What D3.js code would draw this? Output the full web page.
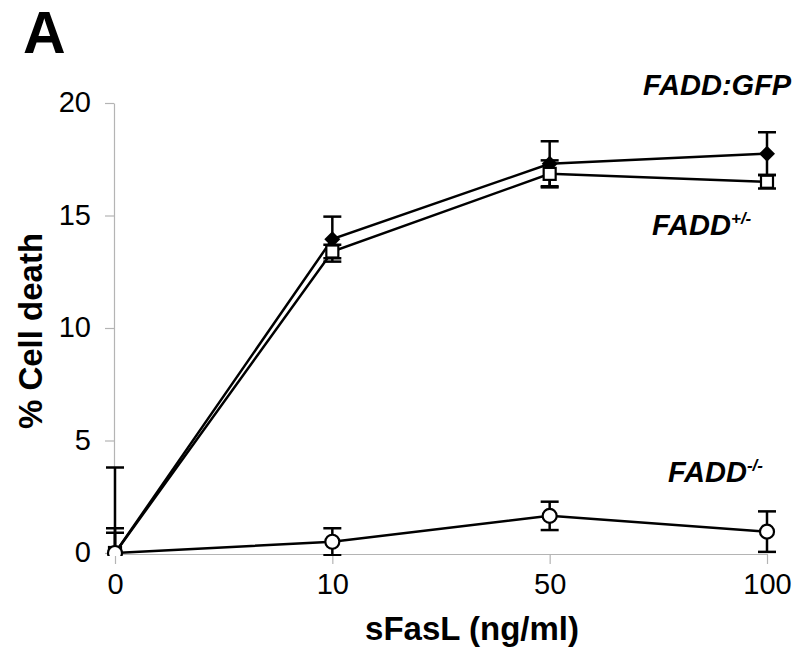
<!DOCTYPE html>
<html>
<head>
<meta charset="utf-8">
<script src="https://cdn.jsdelivr.net/npm/d3@7"></script>
<style>
  body { margin: 0; background: #fff; }
  text { font-family: "Liberation Sans", Arial, sans-serif; }
</style>
</head>
<body>
<script>
// sFasL dose response, % cell death for three cell lines
var svgWidth = 811;
var svgHeight = 662;

var margin = { top: 103, right: 44, bottom: 109, left: 115 };
var chartWidth = 767 - margin.left;
var chartHeight = 553 - margin.top;

// data
var doses = ["0", "10", "50", "100"];
var gfpMean = [0, 13.95, 17.3, 17.75];
var gfpErr = [3.8, 1.0, 1.0, 0.95];
var hetMean = [0, 13.4, 16.85, 16.5];
var hetErr = [1.1, 0.3, 0.6, 0.3];
var koMean = [0, 0.5, 1.65, 0.95];
var koErr = [0.9, 0.6, 0.63, 0.9];
var yTicks = [0, 5, 10, 15, 20];

var svg = d3.select("body")
  .append("svg")
  .attr("width", svgWidth)
  .attr("height", svgHeight);

var chartGroup = svg.append("g")
  .attr("transform", `translate(${margin.left}, ${margin.top})`);

var xScale = d3.scalePoint().domain(doses).range([0, chartWidth]);
var yScale = d3.scaleLinear().domain([0, 20]).range([chartHeight, 0]);

// axes
var leftAxis = d3.axisLeft(yScale).tickValues(yTicks).tickSize(9).tickSizeOuter(0).tickPadding(14);
var bottomAxis = d3.axisBottom(xScale).tickSize(10).tickSizeOuter(0).tickPadding(8);

var yAxis = chartGroup.append("g").attr("transform", "translate(-1,0)").call(leftAxis);
var xAxis = chartGroup.append("g").attr("transform", `translate(0, ${chartHeight + 1})`).call(bottomAxis);

[xAxis, yAxis].forEach(function(ax) {
  ax.select(".domain").attr("stroke", "#b4b4b4").attr("stroke-width", 1.2);
  ax.selectAll(".tick line").attr("stroke", "#b4b4b4").attr("stroke-width", 1.2);
  ax.selectAll(".tick text")
    .attr("fill", "#000")
    .style("font-size", "29px")
    .style("font-family", "'Liberation Sans', Arial, sans-serif");
});
yAxis.selectAll(".tick text").attr("dy", "0.3em");
xAxis.selectAll(".tick text").attr("dy", "0.75em");

// clip so error bars stay inside the plot
chartGroup.append("clipPath").attr("id", "plotClip")
  .append("rect").attr("x", -30).attr("y", -40).attr("width", chartWidth + 60).attr("height", chartHeight + 43);

var plot = chartGroup.append("g").attr("clip-path", "url(#plotClip)");

var series = [
  { mean: gfpMean, err: gfpErr, marker: "diamond" },
  { mean: hetMean, err: hetErr, marker: "square" },
  { mean: koMean, err: koErr, marker: "circle" }
];

var line = d3.line()
  .x((d, i) => xScale(doses[i]))
  .y(d => yScale(d));

// error bars first
series.forEach(function(s) {
  var g = plot.append("g").attr("stroke", "#000").attr("stroke-width", 2.5);
  s.mean.forEach(function(m, i) {
    var x = xScale(doses[i]);
    var hi = yScale(m + s.err[i]);
    var lo = yScale(m - s.err[i]);
    g.append("line").attr("x1", x).attr("x2", x).attr("y1", hi).attr("y2", lo);
    g.append("line").attr("x1", x - 9).attr("x2", x + 9).attr("y1", hi).attr("y2", hi);
    g.append("line").attr("x1", x - 9).attr("x2", x + 9).attr("y1", lo).attr("y2", lo);
  });
});

// lines
series.forEach(function(s) {
  plot.append("path")
    .datum(s.mean)
    .attr("d", line)
    .attr("fill", "none")
    .attr("stroke", "#000")
    .attr("stroke-width", 2.5);
});

// markers
var diamond = d3.symbol().type(d3.symbolDiamond2).size(130);
series.forEach(function(s) {
  var pts = plot.selectAll(null).data(s.mean).enter();
  if (s.marker === "diamond") {
    pts.append("path")
      .attr("d", "M0,-8L8,0L0,8L-8,0Z")
      .attr("transform", (d, i) => `translate(${xScale(doses[i])},${yScale(d)})`)
      .attr("fill", "#000");
  } else if (s.marker === "square") {
    pts.append("rect")
      .attr("x", (d, i) => xScale(doses[i]) - 6)
      .attr("y", d => yScale(d) - 6)
      .attr("width", 12).attr("height", 12)
      .attr("fill", "#fff").attr("stroke", "#000").attr("stroke-width", 2.2);
  } else {
    pts.append("circle")
      .attr("cx", (d, i) => xScale(doses[i]))
      .attr("cy", d => yScale(d))
      .attr("r", 7)
      .attr("fill", "#fff").attr("stroke", "#000").attr("stroke-width", 2.2);
  }
});

// axis titles
svg.append("text")
  .attr("x", 472).attr("y", 640)
  .attr("text-anchor", "middle")
  .style("font-size", "33px").style("font-weight", "bold")
  .text("sFasL (ng/ml)");

svg.append("text")
  .attr("transform", "translate(42,331) rotate(-90)")
  .attr("text-anchor", "middle")
  .style("font-size", "33px").style("font-weight", "bold")
  .text("% Cell death");

// panel letter
svg.append("text")
  .attr("x", 23).attr("y", 53)
  .style("font-size", "59px").style("font-weight", "bold")
  .text("A");

// series labels
function seriesLabel(x, y, main, sup) {
  var t = svg.append("text")
    .attr("x", x).attr("y", y)
    .style("font-size", "29px").style("font-weight", "bold").style("font-style", "italic");
  t.append("tspan").text(main);
  if (sup) {
    t.append("tspan").attr("dy", -11).style("font-size", "17px").text(sup);
  }
}
seriesLabel(643, 95, "FADD:GFP");
seriesLabel(652, 235, "FADD", "+/-");
seriesLabel(668, 482, "FADD", "-/-");
</script>
</body>
</html>
